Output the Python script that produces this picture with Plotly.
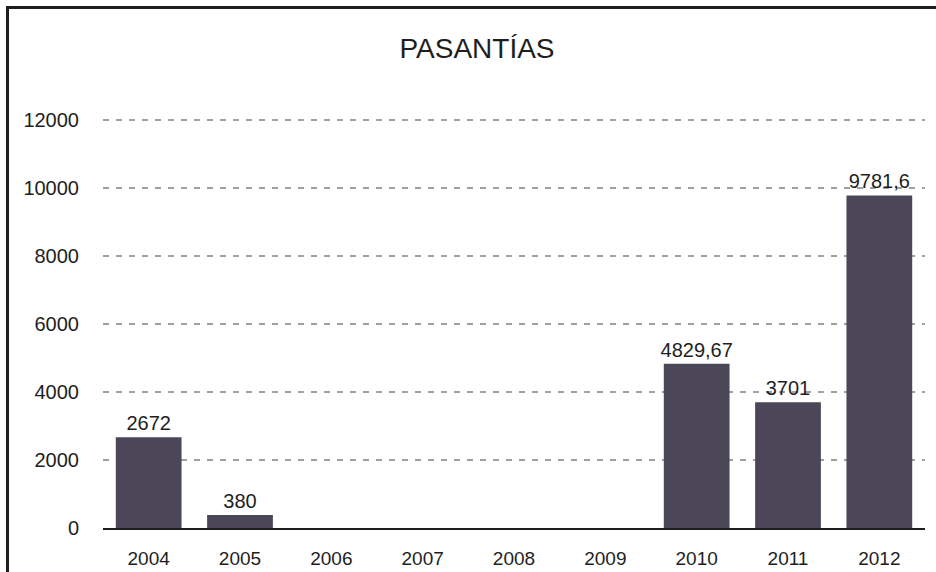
import plotly.graph_objects as go

years = ["2004", "2005", "2006", "2007", "2008", "2009", "2010", "2011", "2012"]
values = [2672, 380, 0, 0, 0, 0, 4829.67, 3701, 9781.6]
labels = ["2672", "380", "", "", "", "", "4829,67", "3701", "9781,6"]
y_ticks = [0, 2000, 4000, 6000, 8000, 10000, 12000]
y_tick_text = ["0", "2000", "4000", "6000", "8000", "10000", "12000"]

FONT = "Liberation Sans, Arial, Helvetica"

fig = go.Figure(go.Bar(
    x=years, y=values, text=labels, textposition="outside",
    textfont=dict(size=20, color="#1e1e1e", family=FONT),
    constraintext="none",
    marker=dict(color="#4b4759", line=dict(width=0)),
    width=0.72, cliponaxis=False,
))

L, R, T, B = 103, 11, 118, 44
PW, PH = 936 - L - R, 572 - T - B

fig.update_layout(
    width=936, height=572,
    margin=dict(l=L, r=R, t=T, b=B, autoexpand=False),
    paper_bgcolor="white", plot_bgcolor="white",
    font=dict(family=FONT, size=20, color="#1e1e1e"),
    title=dict(text="PASANTÍAS", x=477 / 936, xanchor="center", xref="container",
               y=1 - 48 / 572, yanchor="middle", yref="container",
               font=dict(size=28, color="#1e1e1e", family=FONT)),
    showlegend=False,
    uniformtext=dict(mode=False),
)
fig.update_xaxes(type="category", showgrid=False, showline=True, linecolor="#1e1e1e", linewidth=2,
                 ticks="", ticklabelstandoff=12, tickfont=dict(size=19), automargin=False)
fig.update_yaxes(range=[0, 12060], tickvals=y_ticks, ticktext=y_tick_text, showgrid=True,
                 gridcolor="#a0a0a0", gridwidth=2, griddash="6px,7px", zeroline=False,
                 showline=False, ticks="", ticklabelstandoff=23, tickfont=dict(size=20),
                 automargin=False)

# outer frame (right and bottom edges fall outside the picture)
fig.add_shape(type="rect", xref="paper", yref="paper",
              x0=(7.5 - L) / PW, x1=(960 - L) / PW,
              y0=(572 - B - 600) / PH,
              y1=(572 - B - 7.5) / PH,
              line=dict(color="#1e1e1e", width=3), fillcolor="rgba(0,0,0,0)", layer="above")

fig.write_html("out.html", config={"displayModeBar": False},
               post_script="document.body.style.margin='0';document.body.style.overflow='hidden';")
